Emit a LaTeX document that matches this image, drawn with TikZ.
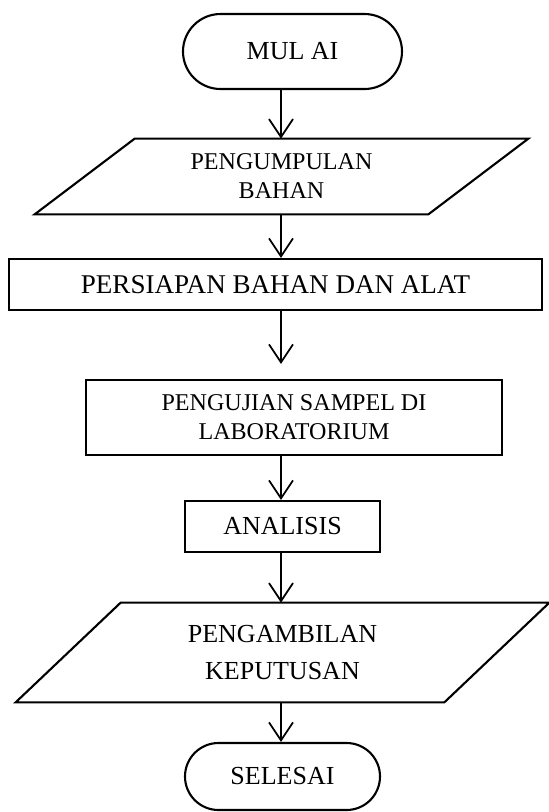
\documentclass[tikz,border=0pt]{standalone}
\usepackage{fontspec}
\setmainfont{Liberation Serif}
\usetikzlibrary{shapes, arrows.meta}

\begin{document}
\begin{tikzpicture}[
  term/.style={draw, line width=1.2pt, rounded rectangle, align=center, inner sep=0pt},
  proc/.style={draw, line width=1.2pt, rectangle, align=center, inner sep=0pt},
  io/.style={rectangle, align=center, inner sep=0pt},
  edge/.style={line width=1.2pt},
  flow/.style={line width=1pt, -{Straight Barb[length=0.36cm, width=0.48cm]}},
  small/.style={font=\fontsize{13.7}{16.5}\selectfont},
  big/.style={font=\fontsize{14.8}{21}\selectfont}
]
\useasboundingbox (0,0) rectangle (10.96,-16.24);
\coordinate (axis) at (5.62,0);

\node [term, big, minimum width=4.38cm, minimum height=1.5cm] (start) at (5.85,-1.03) {MUL AI};

\node [io, small, minimum width=5.86cm, minimum height=1.5cm] (collect) at (5.63,-3.53) {PENGUMPULAN\\BAHAN};
\draw [edge] (collect.north west) -- ([xshift=2cm]collect.north east) -- (collect.south east) -- ([xshift=-2cm]collect.south west) -- cycle;

\node [proc, font=\fontsize{15.4}{18}\selectfont, minimum width=10.66cm, minimum height=1.02cm] (prep) at (5.51,-5.69) {PERSIAPAN BAHAN DAN ALAT};

\node [proc, small, minimum width=8.32cm, minimum height=1.5cm] (test) at (5.88,-8.35) {PENGUJIAN SAMPEL DI\\LABORATORIUM};

\node [proc, big, minimum width=3.9cm, minimum height=1.02cm] (analysis) at (5.65,-10.53) {ANALISIS};

\node [io, big, minimum width=6.46cm, minimum height=1.98cm] (decide) at (5.65,-13.05) {PENGAMBILAN\\KEPUTUSAN};
\draw [edge] (decide.north west) -- ([xshift=2.1cm]decide.north east) -- (decide.south east) -- ([xshift=-2.1cm]decide.south west) -- cycle;

\node [term, big, minimum width=3.9cm, minimum height=1.34cm] (finish) at (5.65,-15.53) {SELESAI};

% alur
\draw [flow] (start.south -| axis) -- (collect.north -| axis);
\draw [flow] (collect.south -| axis) -- (prep.north -| axis);
\draw [flow, shorten >=0.3cm] (prep.south -| axis) -- (test.north -| axis);
\draw [flow] (test.south -| axis) -- (analysis.north -| axis);
\draw [flow] (analysis.south -| axis) -- (decide.north -| axis);
\draw [flow] (decide.south -| axis) -- (finish.north -| axis);
\end{tikzpicture}
\end{document}
